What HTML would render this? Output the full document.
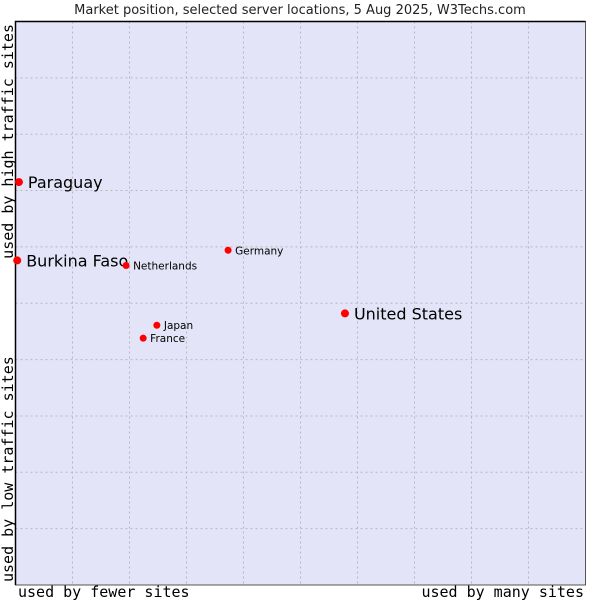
<!DOCTYPE html>
<html><head><meta charset="utf-8"><style>
body{margin:0;background:#fff;}
svg{display:block;font-family:"DejaVu Sans","Liberation Sans",sans-serif;}
</style></head><body>
<svg id="chart" width="600" height="600" viewBox="0 0 600 600">
<text x="300" y="14" text-anchor="middle" font-size="13" fill="#222">Market position, selected server locations, 5 Aug 2025, W3Techs.com</text>
<rect x="15.5" y="21.5" width="570" height="563.5" fill="#e4e4f8" stroke="#555" stroke-width="1"/>
<g id="grid"></g>
<path d="M15.5 585 V21.5 H585.5" fill="none" stroke="#000" stroke-width="1.5"/>
<g id="points"></g>
<text x="18" y="597" font-family="DejaVu Sans Mono,Liberation Mono,monospace" font-size="15" fill="#000">used by fewer sites</text>
<text x="584" y="597" text-anchor="end" font-family="DejaVu Sans Mono,Liberation Mono,monospace" font-size="15" fill="#000">used by many sites</text>
<text transform="translate(13,582) rotate(-90)" font-family="DejaVu Sans Mono,Liberation Mono,monospace" font-size="15" fill="#000">used by low traffic sites</text>
<text transform="translate(13,24) rotate(-90)" text-anchor="end" font-family="DejaVu Sans Mono,Liberation Mono,monospace" font-size="15" fill="#000">used by high traffic sites</text>
</svg>
<script>
const names=["Paraguay","Burkina Faso","Netherlands","Germany","United States","Japan","France"];
const xVals=[0.6,0.3,19.4,37.3,57.8,24.8,22.4];
const yVals=[71.5,57.6,56.7,59.4,48.2,46.1,43.8];
const big=[true,true,false,false,true,false,false];
const L=15.5,R=585.5,T=21.5,B=585;
function sx(v){return L+v/100*(R-L);}
function sy(v){return B-v/100*(B-T);}
const ns="http://www.w3.org/2000/svg";
const grid=document.getElementById('grid');
for(let i=1;i<10;i++){
  const v=document.createElementNS(ns,'line');
  
  
  v.setAttribute('x1',sx(i*10));v.setAttribute('x2',sx(i*10));v.setAttribute('y1',T);v.setAttribute('y2',B);
  v.setAttribute('stroke','#b8b8b8');v.setAttribute('stroke-dasharray','2,3');
  grid.appendChild(v);
  const h=document.createElementNS(ns,'line');
  
  
  h.setAttribute('y1',sy(i*10));h.setAttribute('y2',sy(i*10));h.setAttribute('x1',L);h.setAttribute('x2',R);
  h.setAttribute('stroke','#b8b8b8');h.setAttribute('stroke-dasharray','2,3');
  grid.appendChild(h);
}
const pts=document.getElementById('points');
names.forEach((n,i)=>{
  const x=sx(xVals[i]),y=sy(yVals[i]);
  const c=document.createElementNS(ns,'circle');
  
  
  c.setAttribute('cx',x);c.setAttribute('cy',y);c.setAttribute('r',big[i]?4:3.5);c.setAttribute('fill','#f00');
  pts.appendChild(c);
  const t=document.createElementNS(ns,'text');
  
  
  t.setAttribute('x',x+(big[i]?9:7));t.setAttribute('y',y+(big[i]?6:4));
  t.setAttribute('font-size',big[i]?16:10.5);t.setAttribute('fill','#000');
  t.textContent=n;
  pts.appendChild(t);
});
</script>
</body></html>
